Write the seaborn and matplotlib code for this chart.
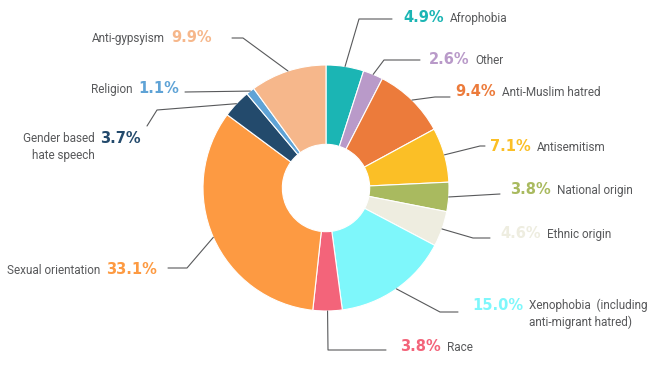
import numpy as np
import matplotlib
matplotlib.use("Agg")
import matplotlib.pyplot as plt
import seaborn as sns

# Data (share of hate speech cases by ground, %), clockwise from 12 o'clock
categories = [
    "Afrophobia", "Other", "Anti-Muslim hatred", "Antisemitism",
    "National origin", "Ethnic origin", "Xenophobia  (including\nanti-migrant hatred)",
    "Race", "Sexual orientation", "Gender based\nhate speech", "Religion", "Anti-gypsyism",
]
shares = [4.9, 2.6, 9.4, 7.1, 3.8, 4.6, 15.0, 3.8, 33.1, 3.7, 1.1, 9.9]
colors = [
    "#1bb5b4", "#b99ac9", "#ec7b3b", "#fbbf26", "#a9ba5f", "#eeede0",
    "#7ef7fb", "#f3647a", "#fd9a42", "#234a6c", "#5fa3d6", "#f6b78b",
]

# Label layout in pixel coords (y from top): side, label anchor, leader path after the wedge
sides = ["r", "r", "r", "r", "r", "r", "r", "r", "l", "l", "l", "l"]
label_xy = [(403, 22), (429, 64), (455, 96), (490, 151), (510, 194), (500, 238),
            (472, 310), (400, 351), (157, 274), (141, 143), (179, 93), (212, 42)]
leader_paths = [
    [(359, 19), (392, 19)],
    [(384, 60), (420, 60)],
    [(435, 97), (450, 97)],
    [(480, 146), (485, 146)],
    [(500, 194)],
    [(473, 238), (490, 238)],
    [(440, 312), (458, 312)],
    [(328, 350), (386, 350)],
    [(187, 268), (168, 268)],
    [(157, 110), (147, 126)],
    [(185, 92)],
    [(243, 38), (232, 38)],
]

W, H = 670, 367
cx, cy, R = 326, 188, 123
line_h = 16

sns.set_theme(style="white")
plt.rcParams["font.family"] = ["Roboto", "DejaVu Sans"]

fig = plt.figure(figsize=(W / 100, H / 100), dpi=100)
ax = fig.add_axes([0, 0, 1, 1])

ax.pie(shares, colors=colors, startangle=90, counterclock=False,
       center=(cx, H - cy), radius=R,
       wedgeprops=dict(width=R * 0.645, edgecolor="white", linewidth=0.8))
ax.set_xlim(0, W)
ax.set_ylim(0, H)
ax.set_aspect("equal")
ax.axis("off")

renderer = fig.canvas.get_renderer()
total = sum(shares)
cum = np.cumsum([0] + shares)
grey = "#58595b"

for i, name in enumerate(categories):
    mid = (cum[i] + cum[i + 1]) / 2 / total * 2 * np.pi
    sx = cx + R * np.sin(mid)
    sy = cy - R * np.cos(mid)
    pts = [(sx, sy)] + leader_paths[i]
    ax.plot([p[0] for p in pts], [H - p[1] for p in pts], color=grey, lw=0.8)

    tx, ty = label_xy[i]
    pct = f"{shares[i]:.1f}%"
    # baseline of the last line, so the first line sits next to the percentage
    name_y = H - ty - line_h * name.count("\n")
    left = sides[i] == "r"
    t = ax.text(tx, H - ty, pct, color=colors[i], fontsize=10.5,
                family="DejaVu Sans", fontweight="bold",
                ha="left" if left else "right", va="baseline")
    bb = t.get_window_extent(renderer)
    ax.text(bb.x1 + 6 if left else bb.x0 - 6, name_y, name, color=grey, fontsize=8.5,
            ha="left" if left else "right", va="baseline",
            multialignment="left" if left else "right", linespacing=1.35)

fig.savefig("out.png", dpi=100, facecolor="white")
